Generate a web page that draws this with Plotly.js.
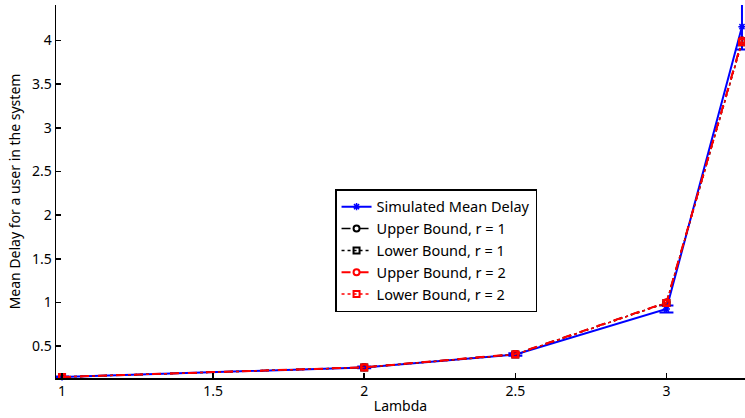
<!DOCTYPE html>
<html>
<head>
<meta charset="utf-8">
<script src="https://cdn.plot.ly/plotly-3.0.1.min.js"></script>
<style>html,body{margin:0;padding:0;background:#fff;}#chart{width:745px;height:418px;}</style>
</head>
<body>
<div id="chart"></div>
<script>
const lambda = [1, 2, 2.5, 3, 3.25];
const simulated = [0.148, 0.257, 0.405, 0.925, 4.157];
const simError = [0.006, 0.01, 0.015, 0.04, 0.26];
const upperR1 = [0.148, 0.258, 0.41, 1.0, 4.0];
const lowerR1 = [0.148, 0.257, 0.405, 0.995, 3.98];
const upperR2 = [0.148, 0.258, 0.41, 1.0, 4.0];
const lowerR2 = [0.148, 0.257, 0.405, 0.995, 3.98];
const seriesNames = ['Simulated Mean Delay', 'Upper Bound, r = 1', 'Lower Bound, r = 1', 'Upper Bound, r = 2', 'Lower Bound, r = 2'];
const xTicks = [1, 1.5, 2, 2.5, 3];
const yTicks = [0.5, 1, 1.5, 2, 2.5, 3, 3.5, 4];

const FONT = 'Noto Sans, Open Sans, sans-serif';

const traces = [
  {
    x: lambda, y: simulated, name: seriesNames[0], type: 'scatter', mode: 'lines+markers',
    cliponaxis: false,
    line: {color: '#0000ff', width: 2},
    marker: {symbol: 'asterisk-open', size: 6, color: '#0000ff', line: {color: '#0000ff', width: 1.5}},
    error_y: {type: 'data', array: simError, visible: true, color: '#0000ff', thickness: 2, width: 7}
  },
  {
    x: lambda, y: upperR1, name: seriesNames[1], type: 'scatter', mode: 'lines+markers',
    line: {color: '#000000', width: 1.5, dash: 'dash'},
    marker: {symbol: 'circle-open', size: 6, color: '#000000', line: {color: '#000000', width: 2}}
  },
  {
    x: lambda, y: lowerR1, name: seriesNames[2], type: 'scatter', mode: 'lines+markers',
    line: {color: '#000000', width: 1.5, dash: 'dot'},
    marker: {symbol: 'square-open', size: 6, color: '#000000', line: {color: '#000000', width: 2}}
  },
  {
    x: lambda, y: upperR2, name: seriesNames[3], type: 'scatter', mode: 'lines+markers',
    line: {color: '#ff0000', width: 2, dash: 'dash'},
    marker: {symbol: 'circle-open', size: 6, color: '#ff0000', line: {color: '#ff0000', width: 2}}
  },
  {
    x: lambda, y: lowerR2, name: seriesNames[4], type: 'scatter', mode: 'lines+markers',
    line: {color: '#ff0000', width: 1.5, dash: 'dot'},
    marker: {symbol: 'square-open', size: 6, color: '#ff0000', line: {color: '#ff0000', width: 2}}
  }
];

const layout = {
  width: 745, height: 418,
  margin: {l: 56, r: 0, t: 5, b: 40, pad: 0},
  paper_bgcolor: '#ffffff', plot_bgcolor: '#ffffff',
  font: {family: FONT, size: 14, color: '#000000'},
  showlegend: true,
  legend: {
    x: 0.405, y: 0.506, xanchor: 'left', yanchor: 'top',
    bgcolor: '#ffffff', bordercolor: '#000000', borderwidth: 1.5,
    font: {family: FONT, size: 14.5, color: '#000000'},
    tracegroupgap: 0, itemwidth: 30
  },
  xaxis: {
    range: [0.98, 3.26], tickvals: xTicks, ticktext: xTicks.map(String),
    showgrid: false, zeroline: false, showline: true, linecolor: '#000000', linewidth: 1.5,
    ticks: 'inside', ticklen: 5, tickwidth: 1.5, tickcolor: '#000000',
    tickfont: {family: FONT, size: 14, color: '#000000'},
    title: {text: 'Lambda', font: {family: FONT, size: 14, color: '#000000'}, standoff: 2}
  },
  yaxis: {
    range: [0.136, 4.405], tickvals: yTicks, ticktext: yTicks.map(String),
    showgrid: false, zeroline: false, showline: true, linecolor: '#000000', linewidth: 1.5,
    ticks: 'inside', ticklen: 5, tickwidth: 1.5, tickcolor: '#000000',
    tickfont: {family: FONT, size: 14, color: '#000000'},
    title: {text: 'Mean Delay for a user in the system', font: {family: FONT, size: 14, color: '#000000'}, standoff: 8}
  }
};

Plotly.newPlot('chart', traces, layout, {displayModeBar: false, staticPlot: true});
</script>
</body>
</html>
